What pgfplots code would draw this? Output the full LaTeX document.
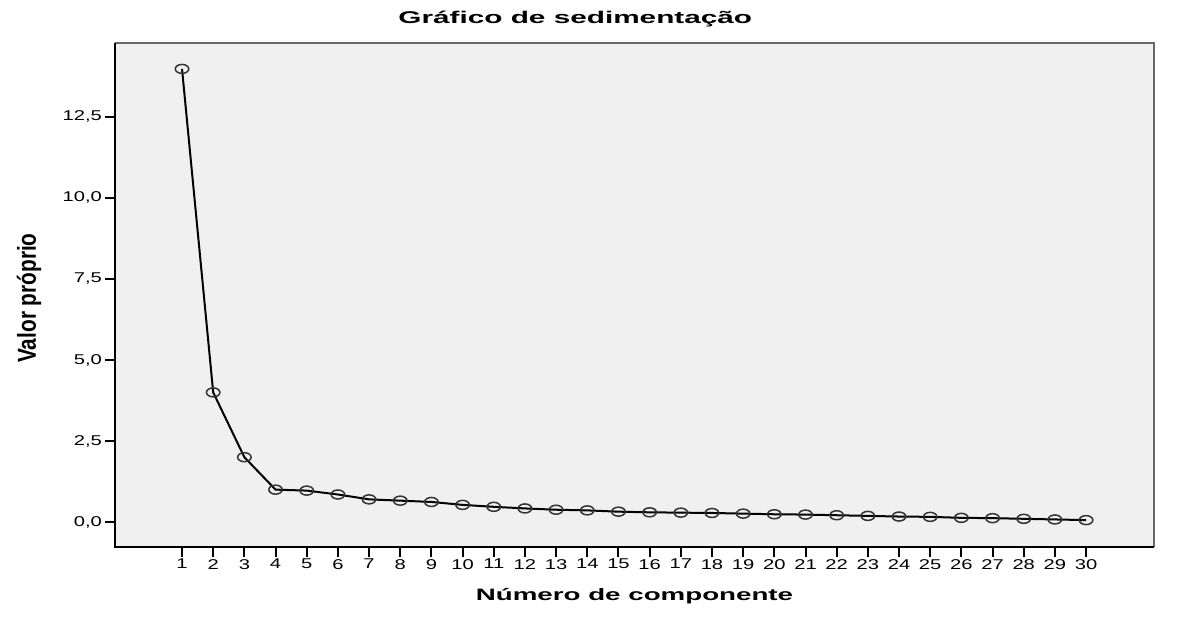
\documentclass[border=0pt]{standalone}
\usepackage{fontspec}
\setmainfont{Liberation Sans}
\usepackage{pgfplots}
\pgfplotsset{compat=1.18}
\definecolor{bg}{RGB}{240,240,240}
\definecolor{framegray}{RGB}{105,105,105}
\begin{document}
\begin{tikzpicture}
\useasboundingbox (0,0) rectangle (1198pt,619pt);
\begin{axis}[
  at={(115pt,72pt)}, anchor=south west,
  scale only axis, width=1039pt, height=504pt,
  xmin=-1.15, xmax=32.18, ymin=-0.77, ymax=14.78,
  clip=false,
  axis background/.style={fill=bg},
  axis line style={draw=none},
  xtick={1,...,30}, ytick={0,2.5,5,7.5,10,12.5},
  tick align=outside, major tick length=10pt,
  tick style={black, line width=2pt},
  xtick pos=bottom, ytick pos=left,
  /pgf/number format/assume math mode=true,
  y tick label style={/pgf/number format/fixed, /pgf/number format/fixed zerofill,
    /pgf/number format/precision=1, /pgf/number format/use comma,
    font=\fontsize{14.2}{16}\selectfont, xscale=1.42, inner sep=2pt},
  x tick label style={font=\fontsize{14.2}{16}\selectfont, xscale=1.42, inner sep=2pt},
  title={Gráfico de sedimentação},
  title style={at={(rel axis cs:0.443,1)}, anchor=base, yshift=13pt, xscale=1.75,
    inner sep=0pt, font=\fontsize{17}{20}\selectfont\bfseries},
  xlabel={Número de componente},
  xlabel style={at={(rel axis cs:0.5,0)}, anchor=base, yshift=-53pt, xscale=1.68,
    inner sep=0pt, font=\fontsize{16.5}{18}\selectfont\bfseries},
  ylabel={\scalebox{0.8}[1]{Valor próprio}},
  ylabel style={at={(rel axis cs:-0.0828,0.494)}, anchor=center, inner sep=0pt,
    font=\fontsize{26}{28}\selectfont\bfseries},
]
\draw[framegray, line width=1.6pt] (rel axis cs:0,1) -- (rel axis cs:1,1) -- (rel axis cs:1,0);
\draw[black, line width=2.2pt] (rel axis cs:0,1) -- (rel axis cs:0,0) -- (rel axis cs:1,0);
\addplot[black, line width=2pt, mark=o, mark size=4.5pt,
  mark options={xscale=1.5, line width=1.5pt, draw=black!80, solid}] table {
x y
1 13.98
2 4.0
3 2.0
4 1.0
5 0.97
6 0.85
7 0.70
8 0.66
9 0.62
10 0.53
11 0.47
12 0.42
13 0.38
14 0.36
15 0.32
16 0.30
17 0.29
18 0.28
19 0.26
20 0.24
21 0.23
22 0.21
23 0.19
24 0.17
25 0.16
26 0.13
27 0.12
28 0.10
29 0.08
30 0.06
};
\end{axis}
\end{tikzpicture}
\end{document}
